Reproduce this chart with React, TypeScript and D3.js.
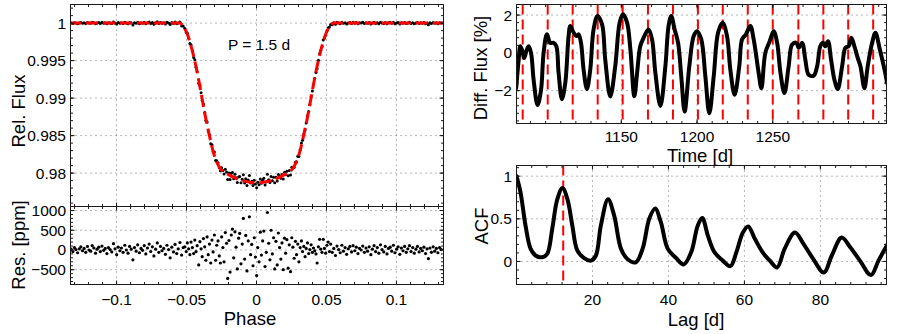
import * as d3 from 'd3';

type Box = { left: number; right: number; top: number; bottom: number };

const INK = '#1a1a1a';
const GRID = '#6e6e6e';
const FONT = '"Liberation Sans", Arial, Helvetica, sans-serif';

// ---- left: folded transit ----
const modelPhase = [-0.134, -0.055, -0.052, -0.049, -0.046, -0.043, -0.04, -0.037, -0.034, -0.031, -0.028, -0.025, -0.02, -0.014, -0.008, 0, 0.008, 0.014, 0.02, 0.025, 0.028, 0.031, 0.034, 0.037, 0.04, 0.043, 0.046, 0.049, 0.052, 0.055, 0.134];
const modelFlux = [1, 1, 0.9995, 0.9983, 0.9964, 0.994, 0.9911, 0.988, 0.9853, 0.9829, 0.9813, 0.9804, 0.9798, 0.97925, 0.9789, 0.9787, 0.9789, 0.97925, 0.9798, 0.9804, 0.9813, 0.9829, 0.9853, 0.988, 0.9911, 0.994, 0.9964, 0.9983, 0.9995, 1, 1];

// residuals [phase, ppm]
const residuals: [number, number][] = [
  [-0.1325, 20], [-0.1312, -40], [-0.1301, 60], [-0.129, 10], [-0.1278, -70], [-0.1266, 30], [-0.1255, 80], [-0.1243, -20],
  [-0.1232, 40], [-0.122, -60], [-0.1208, 90], [-0.1197, 0], [-0.1185, -30], [-0.1174, 110], [-0.1162, 50], [-0.115, -80],
  [-0.1139, 20], [-0.1127, 70], [-0.1116, -40], [-0.1104, 100], [-0.1092, -10], [-0.1081, 40], [-0.1069, -90], [-0.1058, 60],
  [-0.1046, 10], [-0.1034, -50], [-0.1022, 160], [-0.1011, 30], [-0.0999, -120], [-0.0988, 70], [-0.0976, -20], [-0.0965, 50],
  [-0.0953, -60], [-0.0941, 120], [-0.093, 0], [-0.0918, -80], [-0.0907, 90], [-0.0895, 20], [-0.0883, -250], [-0.0872, 60],
  [-0.086, -30], [-0.0849, 130], [-0.0837, -70], [-0.0825, 40], [-0.0814, -10], [-0.0802, 110], [-0.0791, -100], [-0.0779, 50],
  [-0.0767, 150], [-0.0756, -40], [-0.0744, 80], [-0.0733, -150], [-0.0721, 20], [-0.0709, 180], [-0.0698, -60], [-0.0686, 90],
  [-0.0675, -20], [-0.0663, 40], [-0.0651, -110], [-0.064, 120], [-0.0628, 10], [-0.0617, -200], [-0.0605, 70], [-0.0593, -50],
  [-0.0582, 140], [-0.057, -90], [-0.0559, 30], [-0.0547, 190], [-0.0535, -130], [-0.0524, 60],
  [-0.0513, 80], [-0.0502, -40], [-0.0494, 180], [-0.0485, 30], [-0.0476, -120], [-0.0468, 200], [-0.0458, 60], [-0.0449, -90],
  [-0.0441, 250], [-0.0432, -40], [-0.0424, 110], [-0.0413, -380], [-0.0404, 210], [-0.0396, 30], [-0.0388, -170], [-0.0379, 290],
  [-0.037, 80], [-0.0362, -260], [-0.0353, 330], [-0.0345, -120], [-0.0336, 150], [-0.0327, -330], [-0.0318, 250], [-0.031, -50],
  [-0.0301, 380], [-0.0292, -260], [-0.0284, 120], [-0.0275, 230], [-0.0266, -150], [-0.0258, -330], [-0.0249, 330], [-0.024, 60],
  [-0.0232, -300], [-0.0223, 440], [-0.0214, 170], [-0.0206, -720], [-0.0197, 240], [-0.0189, -560], [-0.018, 380], [-0.0172, 530],
  [-0.0163, -200], [-0.0154, 460], [-0.0146, 70], [-0.0137, -480], [-0.0128, 300], [-0.012, 420], [-0.0111, -350], [-0.0102, 150],
  [-0.0094, 800], [-0.0085, -230], [-0.0077, 370], [-0.0068, -530], [-0.0059, 230], [-0.0051, 840], [-0.0042, -120], [-0.0034, 140],
  [-0.0025, -400], [-0.0016, 310], [-0.0008, -180], [0.0001, -650], [0.0009, 60], [0.0018, -300], [0.0027, 450], [0.0035, -130],
  [0.0044, 230], [0.0052, 480], [0.0061, -420], [0.007, -60], [0.0078, 950], [0.0087, 170], [0.0096, -250], [0.0104, 500],
  [0.0113, -100], [0.0122, 310], [0.013, -480], [0.0139, 220], [0.0148, -380], [0.0156, 430], [0.0165, 60], [0.0174, -230],
  [0.0182, 180], [0.0191, -500], [0.02, 300], [0.0208, -80], [0.0217, 260], [0.0226, -460], [0.0234, 130], [0.0243, -550],
  [0.0252, 310], [0.026, 70], [0.0269, -210], [0.0278, 220], [0.0286, -120], [0.0295, 150], [0.0303, -300], [0.0312, 60],
  [0.0321, 230], [0.0329, -40], [0.0338, 90], [0.0347, -170], [0.0355, 40], [0.0364, 180], [0.0373, -90], [0.0381, 10],
  [0.039, 130], [0.0399, -60], [0.0407, 50], [0.0416, -20], [0.0425, -100], [0.0433, -330], [0.0442, 80], [0.0451, 270],
  [0.0459, 20], [0.0468, -60], [0.0477, 270], [0.0485, 40], [0.0494, -80], [0.0503, 120], [0.0512, 200], [0.0521, -40],
  [0.053, 150], [0.0541, -60], [0.0552, 40], [0.0564, -140], [0.0575, 100], [0.0587, 10], [0.0598, -70], [0.061, 120],
  [0.0621, -30], [0.0633, 60], [0.0644, -110], [0.0656, 30], [0.0667, 90], [0.0679, -50], [0.069, 110], [0.0702, -20],
  [0.0713, 70], [0.0725, -90], [0.0736, 40], [0.0748, 0], [0.0759, 100], [0.0771, -60], [0.0782, 50], [0.0794, -30],
  [0.0805, 80], [0.0817, -120], [0.0828, 20], [0.084, 110], [0.0851, -40], [0.0863, 60], [0.0874, -80], [0.0886, 130],
  [0.0897, 10], [0.0909, -50], [0.092, 90], [0.0932, -100], [0.0943, 40], [0.0955, 70], [0.0966, -30], [0.0978, 120],
  [0.0989, -70], [0.1001, 20], [0.1012, 80], [0.1024, -110], [0.1035, 50], [0.1047, -20], [0.1058, 90], [0.107, -60],
  [0.1081, 30], [0.1093, 110], [0.1104, -40], [0.1116, 60], [0.1127, -80], [0.1139, 20], [0.115, 90], [0.1162, -50],
  [0.1173, 40], [0.1185, -20], [0.1196, 70], [0.1208, -90], [0.1219, 30], [0.1228, -220], [0.1239, 50], [0.125, -60],
  [0.1262, 80], [0.1273, -30], [0.1285, 40], [0.1296, -70], [0.1308, 60], [0.132, 10],
];
const periodLabel = 'P = 1.5 d';

// ---- right top: light curve ----
const lcTime = [1080.6, 1082.2, 1083.3, 1084.7, 1085.9, 1087.3, 1088.8, 1090.4, 1092.1, 1094.7, 1097.0, 1098.7, 1100.9, 1103.1, 1105.3, 1107.1, 1108.6, 1110.8, 1113.0, 1115.2, 1116.3, 1118.5, 1120.3, 1121.8, 1123.4, 1125.1, 1127.3, 1129.5, 1131.7, 1134.3, 1137.3, 1139.4, 1142.7, 1146.0, 1148.9, 1151.1, 1153.8, 1156.0, 1158.6, 1160.5, 1162.5, 1164.7, 1168.0, 1170.3, 1172.5, 1175.8, 1179.1, 1181.2, 1183.0, 1185.2, 1187.5, 1189.6, 1191.8, 1194.9, 1197.8, 1200.0, 1202.8, 1205.5, 1208.1, 1211.0, 1213.9, 1216.9, 1219.8, 1222.0, 1224.8, 1227.9, 1229.7, 1232.3, 1235.2, 1237.4, 1240.7, 1242.5, 1245.1, 1248.0, 1250.6, 1252.9, 1255.1, 1257.7, 1260.5, 1262.8, 1265.6, 1267.1, 1269.4, 1271.5, 1273.7, 1277.0, 1279.3, 1281.4, 1283.2, 1284.7, 1286.5, 1288.5, 1290.7, 1292.9, 1295.8, 1298.0, 1300.1, 1301.9, 1303.9, 1306.1, 1307.9, 1310.5, 1312.7, 1315.6, 1317.8, 1320.7, 1323.8, 1325.5];
const lcFlux = [-1.87, -0.4, 0.35, 0.1, -0.27, 0.1, 0.35, 0.0, -1.42, -2.76, -1.96, 0.0, 0.98, 0.53, 0.53, 0.35, -1.07, -2.45, -1.6, 0.89, 1.42, 1.07, 0.89, 0.98, 0.53, -0.89, -1.92, -0.89, 1.24, 1.95, 1.51, -0.36, -2.31, -0.71, 1.6, 2.04, 1.6, 0.18, -2.3, -1.0, 0.35, 0.8, 1.24, 0.71, -1.07, -2.81, -0.71, 1.42, 1.95, 1.24, 0.53, -1.25, -3.11, -0.71, 0.89, 1.15, 0.71, -1.25, -3.2, -1.25, 1.07, 1.6, 0.89, -0.89, -2.22, -0.71, 0.71, 0.98, 1.42, 0.71, -1.07, -1.87, 0.0, 0.62, 1.15, 0.53, -1.07, -2.13, -0.71, 0.44, 0.53, 0.27, 0.53, -0.36, -1.16, -1.21, -0.71, 0.35, 0.53, 0.35, 0.62, -0.36, -1.42, -1.92, -0.71, 0.27, 0.35, 0.8, 0.35, -0.27, -0.71, -1.87, -0.71, 0.53, 1.07, 0.18, -0.89, -1.6];
const periodMarks = [1084.9, 1101.4, 1117.9, 1134.4, 1150.9, 1167.6, 1184.1, 1200.6, 1217.0, 1233.5, 1250.0, 1266.9, 1283.4, 1299.8, 1316.3];

// ---- right bottom: ACF ----
const acfLag = [0, 1.06, 2.38, 3.7, 5.0, 6.8, 8.1, 9.4, 10.75, 12.1, 13.4, 14.7, 16.0, 17.8, 19.6, 20.9, 22.2, 24.1, 25.7, 27.5, 29.2, 31.4, 33.2, 34.95, 36.5, 38.0, 39.8, 42.0, 44.0, 46.0, 47.7, 48.9, 50.4, 52.1, 54.3, 56.3, 57.9, 59.6, 61.0, 62.7, 64.9, 66.7, 68.6, 70.6, 73.3, 75.5, 78.1, 80.9, 83.0, 85.6, 87.8, 90.4, 93.3, 95.3, 97.9];
const acfValue = [1.0, 0.81, 0.42, 0.15, 0.07, 0.05, 0.09, 0.38, 0.73, 0.86, 0.73, 0.42, 0.13, 0.04, 0.01, 0.07, 0.42, 0.73, 0.54, 0.15, 0.03, -0.01, 0.15, 0.5, 0.62, 0.46, 0.15, 0.04, -0.035, 0.11, 0.42, 0.51, 0.3, 0.11, 0.01, -0.055, 0.11, 0.34, 0.41, 0.27, 0.1, 0.01, -0.07, 0.15, 0.34, 0.21, 0.03, -0.13, 0.07, 0.28, 0.17, 0.01, -0.16, 0.01, 0.22];
const acfPeakLag = 12.3;

const fmt = (v: number) => String(+v.toFixed(4)).replace('-', '\u2212');

type AxesProps = {
  id: string;
  box: Box;
  x: d3.ScaleLinear<number, number>;
  y: d3.ScaleLinear<number, number>;
  xTicks: number[];
  yTicks: number[];
  xMinor: number[];
  yMinor: number[];
  xLabels?: boolean;
  xLabelGap?: number;
  children?: any;
};

function Axes({ id, box, x, y, xTicks, yTicks, xMinor, yMinor, xLabels = true, xLabelGap = 20.5, children }: AxesProps) {
  const w = box.right - box.left;
  const h = box.bottom - box.top;
  const major = 4;
  const minor = 2.5;
  const inX = (t: number) => x(t) >= box.left - 0.1 && x(t) <= box.right + 0.1;
  const inY = (t: number) => y(t) >= box.top - 0.1 && y(t) <= box.bottom + 0.1;
  return (
    <g>
      <defs>
        <clipPath id={id}>
          <rect x={box.left} y={box.top} width={w} height={h} />
        </clipPath>
      </defs>
      <g stroke={GRID} strokeWidth={1} strokeDasharray="1 4">
        {xTicks.map((t) => (
          <line key={`gx${t}`} x1={x(t)} x2={x(t)} y1={box.top} y2={box.bottom} />
        ))}
        {yTicks.map((t) => (
          <line key={`gy${t}`} x1={box.left} x2={box.right} y1={y(t)} y2={y(t)} />
        ))}
      </g>
      <g clipPath={`url(#${id})`}>{children}</g>
      <g stroke={INK} strokeWidth={1}>
        {xMinor.filter(inX).map((t) => (
          <g key={`mx${t}`}>
            <line x1={x(t)} x2={x(t)} y1={box.bottom} y2={box.bottom - minor} />
            <line x1={x(t)} x2={x(t)} y1={box.top} y2={box.top + minor} />
          </g>
        ))}
        {yMinor.filter(inY).map((t) => (
          <g key={`my${t}`}>
            <line x1={box.left} x2={box.left + minor} y1={y(t)} y2={y(t)} />
            <line x1={box.right} x2={box.right - minor} y1={y(t)} y2={y(t)} />
          </g>
        ))}
        {xTicks.map((t) => (
          <g key={`tx${t}`}>
            <line x1={x(t)} x2={x(t)} y1={box.bottom} y2={box.bottom - major} />
            <line x1={x(t)} x2={x(t)} y1={box.top} y2={box.top + major} />
          </g>
        ))}
        {yTicks.map((t) => (
          <g key={`ty${t}`}>
            <line x1={box.left} x2={box.left + major} y1={y(t)} y2={y(t)} />
            <line x1={box.right} x2={box.right - major} y1={y(t)} y2={y(t)} />
          </g>
        ))}
      </g>
      <rect x={box.left} y={box.top} width={w} height={h} fill="none" stroke={INK} strokeWidth={1} />
      <g fontFamily={FONT} fontSize={15.5} fill="#000">
        {yTicks.map((t) => (
          <text key={`ly${t}`} x={box.left - 4.5} y={y(t)} textAnchor="end" dominantBaseline="central">
            {fmt(t)}
          </text>
        ))}
        {xLabels &&
          xTicks.map((t) => (
            <text key={`lx${t}`} x={x(t)} y={box.bottom + xLabelGap} textAnchor="middle">
              {fmt(t)}
            </text>
          ))}
      </g>
    </g>
  );
}

function YLabel({ x, y, text }: { x: number; y: number; text: string }) {
  return (
    <text transform={`translate(${x},${y}) rotate(-90)`} textAnchor="middle" fontFamily={FONT} fontSize={18.5}>
      {text}
    </text>
  );
}

export default function App() {
  // left panels
  const transitBox: Box = { left: 70.5, right: 443.5, top: 4.5, bottom: 206.5 };
  const resBox: Box = { left: 70.5, right: 443.5, top: 206.5, bottom: 284.5 };
  const xPhase = d3.scaleLinear().domain([-0.1329, 0.1336]).range([transitBox.left, transitBox.right]);
  const yFlux = d3.scaleLinear().domain([0.97555, 1.00248]).range([transitBox.bottom, transitBox.top]);
  const yRes = d3.scaleLinear().domain([-875, 1102]).range([resBox.bottom, resBox.top]);
  const model = d3.scaleLinear().domain(modelPhase).range(modelFlux).clamp(true);
  const modelLine = d3
    .line<number>()
    .x((_, i) => xPhase(modelPhase[i]))
    .y((_, i) => yFlux(modelFlux[i]))
    .curve(d3.curveMonotoneX);
  const phaseTicks = [-0.1, -0.05, 0, 0.05, 0.1];
  const phaseMinor = d3.range(-13, 14).map((k) => k / 100);

  // right panels
  const lcBox: Box = { left: 516.5, right: 886.5, top: 4.5, bottom: 123.5 };
  const acfBox: Box = { left: 516.5, right: 886.5, top: 165.5, bottom: 284.5 };
  const xTime = d3.scaleLinear().domain([1080.8, 1325.1]).range([lcBox.left, lcBox.right]);
  const yDiff = d3.scaleLinear().domain([-3.74, 2.56]).range([lcBox.bottom, lcBox.top]);
  const xLag = d3.scaleLinear().domain([0, 97.4]).range([acfBox.left, acfBox.right]);
  const yAcf = d3.scaleLinear().domain([-0.27, 1.125]).range([acfBox.bottom, acfBox.top]);
  const lcLine = d3
    .line<number>()
    .x((_, i) => xTime(lcTime[i]))
    .y((_, i) => yDiff(lcFlux[i]))
    .curve(d3.curveCatmullRom.alpha(0.5));
  const acfLine = d3
    .line<number>()
    .x((_, i) => xLag(acfLag[i]))
    .y((_, i) => yAcf(acfValue[i]))
    .curve(d3.curveCatmullRom.alpha(0.5));

  return (
    <svg
      width={899}
      height={334}
      style={{ position: 'absolute', left: 0, top: 0, background: '#fff' }}
    >
      <rect width={899} height={334} fill="#fff" />

      <Axes
        id="clip-transit"
        box={transitBox}
        x={xPhase}
        y={yFlux}
        xTicks={phaseTicks}
        yTicks={[0.98, 0.985, 0.99, 0.995, 1]}
        xMinor={phaseMinor}
        yMinor={d3.range(976, 1003).map((k) => k / 1000)}
        xLabels={false}
      >
        {residuals.map(([p, r], i) => (
          <circle key={i} cx={xPhase(p)} cy={yFlux(model(p) + r / 1e6)} r={1.5} fill="#000" />
        ))}
        <path
          d={modelLine(modelPhase) ?? ''}
          fill="none"
          stroke="#ff0000"
          strokeWidth={3}
          strokeDasharray="12 5"
        />
        <text x={259} y={50} textAnchor="middle" fontFamily={FONT} fontSize={15.5}>
          {periodLabel}
        </text>
      </Axes>

      <Axes
        id="clip-res"
        box={resBox}
        x={xPhase}
        y={yRes}
        xTicks={phaseTicks}
        yTicks={[-500, 0, 500, 1000]}
        xMinor={phaseMinor}
        yMinor={d3.range(-8, 11).map((k) => k * 100)}
      >
        {residuals.map(([p, r], i) => (
          <circle key={i} cx={xPhase(p)} cy={yRes(r)} r={1.6} fill="#000" />
        ))}
      </Axes>

      <Axes
        id="clip-lc"
        box={lcBox}
        x={xTime}
        y={yDiff}
        xTicks={[1150, 1200, 1250]}
        yTicks={[-2, 0, 2]}
        xMinor={d3.range(109, 133).map((k) => k * 10)}
        yMinor={d3.range(-9, 7).map((k) => k * 0.4)}
        xLabelGap={18}
      >
        {periodMarks.map((t) => (
          <line
            key={t}
            x1={xTime(t)}
            x2={xTime(t)}
            y1={lcBox.top}
            y2={lcBox.bottom}
            stroke="#ff0000"
            strokeWidth={2}
            strokeDasharray="10 5"
          />
        ))}
        <path
          d={lcLine(lcTime) ?? ''}
          fill="none"
          stroke="#000"
          strokeWidth={4}
          strokeLinejoin="round"
          strokeLinecap="round"
        />
      </Axes>

      <Axes
        id="clip-acf"
        box={acfBox}
        x={xLag}
        y={yAcf}
        xTicks={[20, 40, 60, 80]}
        yTicks={[0, 0.5, 1]}
        xMinor={d3.range(1, 25).map((k) => k * 4)}
        yMinor={d3.range(-2, 12).map((k) => k / 10)}
      >
        <line
          x1={xLag(acfPeakLag)}
          x2={xLag(acfPeakLag)}
          y1={acfBox.top}
          y2={acfBox.bottom}
          stroke="#ff0000"
          strokeWidth={2}
          strokeDasharray="10 5"
        />
        <path
          d={acfLine(acfLag) ?? ''}
          fill="none"
          stroke="#000"
          strokeWidth={4}
          strokeLinejoin="round"
          strokeLinecap="round"
        />
      </Axes>

      <YLabel x={25} y={111} text="Rel. Flux" />
      <YLabel x={25} y={245} text="Res. [ppm]" />
      <YLabel x={487} y={68} text="Diff. Flux [%]" />
      <YLabel x={488} y={226} text="ACF" />
      <g fontFamily={FONT} fontSize={18.5} textAnchor="middle">
        <text x={250} y={325}>Phase</text>
        <text x={700} y={161.5}>Time [d]</text>
        <text x={696} y={326}>Lag [d]</text>
      </g>
    </svg>
  );
}
